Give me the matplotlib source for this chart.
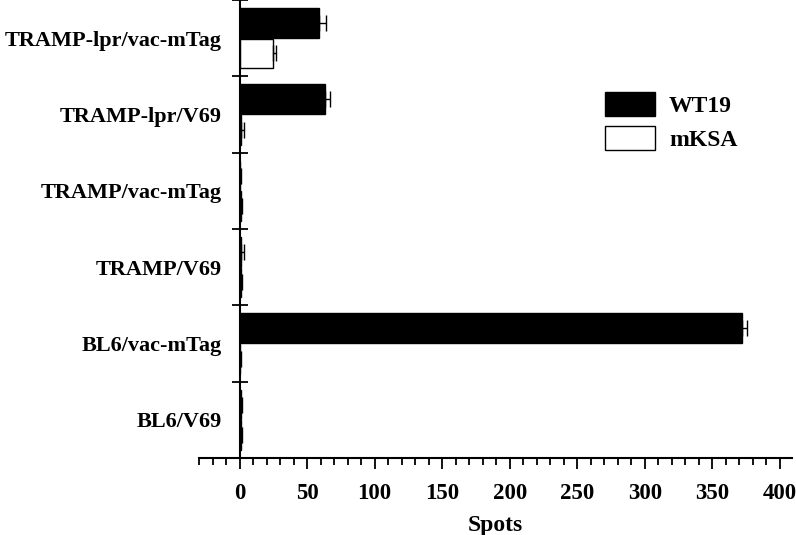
import numpy as np
import matplotlib.pyplot as plt
from matplotlib.ticker import MultipleLocator, FixedLocator

categories = ['TRAMP-lpr/vac-mTag', 'TRAMP-lpr/V69', 'TRAMP/vac-mTag',
              'TRAMP/V69', 'BL6/vac-mTag', 'BL6/V69']
wt19 = [59, 63, 0.5, 1, 372, 1]
wt19_err = [5, 4, 0.5, 2, 4, 1]
mksa = [25, 1, 1, 1, 0.5, 1]
mksa_err = [2, 2, 1, 1, 0.5, 1]

plt.rcParams['font.family'] = ['Liberation Serif', 'DejaVu Serif']
plt.rcParams['font.weight'] = 'bold'

fig = plt.figure(figsize=(7.96, 5.35), dpi=100)
ax = fig.add_axes([0.25, 0.144, 0.745, 0.856])

n = len(categories)
y = np.arange(n)[::-1]
h = 0.39
ekw = dict(ecolor='black', elinewidth=1, capsize=6, capthick=1)
ax.barh(y + 0.2, wt19, height=h, color='black', edgecolor='black', lw=1,
        xerr=[np.zeros(n), wt19_err], error_kw=ekw, label='WT19')
ax.barh(y - 0.2, mksa, height=h, color='white', edgecolor='black', lw=1,
        xerr=[np.zeros(n), mksa_err], error_kw=ekw, label='mKSA')

ax.set_xlim(-30, 409)
ax.set_ylim(-0.5, n - 0.5)
ax.spines['top'].set_visible(False)
ax.spines['right'].set_visible(False)
ax.spines['left'].set_position(('data', 0))
ax.spines['left'].set_linewidth(1.5)
ax.spines['bottom'].set_linewidth(1.5)

ax.xaxis.set_major_locator(MultipleLocator(50))
ax.xaxis.set_minor_locator(MultipleLocator(10))
ax.tick_params(axis='x', which='major', direction='out', length=8, width=1.3, labelsize=16.5, pad=10)
ax.tick_params(axis='x', which='minor', direction='out', length=5, width=1.3)

ax.set_yticks(y)
ax.set_yticklabels(categories, fontsize=16, fontweight='bold')
ax.yaxis.set_minor_locator(FixedLocator(np.arange(n + 1) - 0.5))
ax.tick_params(axis='y', which='major', length=0, pad=13)
ax.tick_params(axis='y', which='minor', direction='inout', length=12, width=1.3)
for lbl in ax.get_xticklabels():
    lbl.set_fontweight('bold')

ax.set_xlabel('Spots', fontsize=17, fontweight='bold', labelpad=8)

ax.legend(loc='upper left', bbox_to_anchor=(0.649, 0.845), frameon=False,
          handlelength=2.1, handleheight=1.2, labelspacing=0.35,
          handletextpad=0.6, prop={'weight': 'bold', 'size': 17})

fig.savefig('out.png', dpi=100)
